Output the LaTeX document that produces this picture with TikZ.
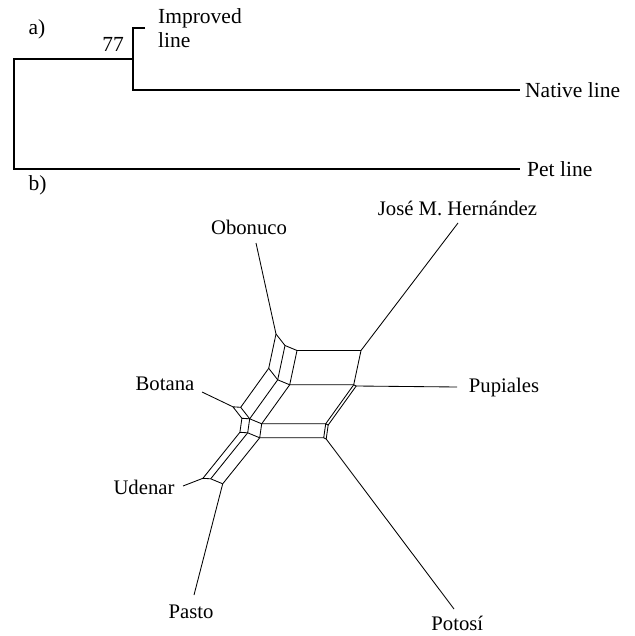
\documentclass[tikz,border=0pt]{standalone}
\usepackage{fontspec}
\setmainfont{Liberation Serif}
\begin{document}
\begin{tikzpicture}[x=1pt,y=-1pt,
  tree/.style={line width=2pt, line join=miter},
  net/.style={line width=0.85pt, line join=round},
  lbl/.style={font=\fontsize{20.7}{24}\selectfont, inner sep=0pt},
  lbla/.style={font=\fontsize{21.5}{24}\selectfont, inner sep=0pt}]
\useasboundingbox (0,0) rectangle (634,636);
% ---------- part a ----------
\coordinate (rt) at (14.3,59.3);
\coordinate (rb) at (14.3,169.3);
\coordinate (in) at (132.7,59.3);
\coordinate (it) at (132.7,28.3);
\coordinate (ib) at (132.7,90);
\coordinate (ie) at (145,28.3);
\coordinate (ne) at (520,90);
\coordinate (pe) at (520,169.3);
\draw[tree] (in) -- (rt) -- (rb) -- (pe);
\draw[tree] (ie) -- (it) -- (ib) -- (ne);
\node[lbla, anchor=base west] (la) at (28.3,35) {a)};
\node[lbla, anchor=base east] (l77) at (124,51.7) {77};
\node[lbla, anchor=base west] (imp1) at (158,24) {Improved};
\node[lbla, anchor=base west] (imp2) at (158,47.3) {line};
\node[lbla, anchor=base west] (nat) at (525,97.5) {Native line};
\node[lbla, anchor=base west] (pet) at (527,176.8) {Pet line};
\node[lbla, anchor=base west] (lb) at (28.3,190.5) {b)};
% ---------- part b: split network ----------
\coordinate (O0) at (276,334);
\coordinate (O1) at (285,345.5);
\coordinate (O2) at (297,350.5);
\coordinate (J0) at (361,350.5);
\coordinate (L0) at (268.7,368.3);
\coordinate (L1) at (277.7,379.8);
\coordinate (L2) at (289.7,384.8);
\coordinate (P0) at (353.7,384.8);
\coordinate (P1) at (356.2,386);
\coordinate (B1) at (240.7,407.3);
\coordinate (B0) at (232.9,406.8);
\coordinate (Y) at (249.7,418.8);
\coordinate (X) at (241.9,418.3);
\coordinate (T0) at (261.7,423.8);
\coordinate (T1) at (325.7,423.8);
\coordinate (T2) at (328.2,425);
\coordinate (XB) at (239.9,432.3);
\coordinate (YB) at (247.7,432.8);
\coordinate (TB0) at (259.7,437.8);
\coordinate (TB1) at (323.7,437.8);
\coordinate (TB2) at (326.2,439);
\coordinate (U) at (202.9,478.3);
\coordinate (YF) at (210.7,478.8);
\coordinate (Pa) at (222.7,483.8);
% leaf ends
\coordinate (eO) at (256,243);
\coordinate (eJ) at (458,223);
\coordinate (ePu) at (457,387);
\coordinate (ePo) at (454,609);
\coordinate (ePa) at (194,595);
\coordinate (eU) at (183,486);
\coordinate (eB) at (202,392);
\draw[net] (O0) -- (O1) -- (O2) -- (J0);
\draw[net] (O0) -- (L0); \draw[net] (O1) -- (L1); \draw[net] (O2) -- (L2); \draw[net] (J0) -- (P0);
\draw[net] (L0) -- (L1) -- (L2) -- (P0) -- (P1);
\draw[net] (L0) -- (B1); \draw[net] (L1) -- (Y); \draw[net] (L2) -- (T0);
\draw[net] (P0) -- (T1); \draw[net] (P1) -- (T2);
\draw[net] (B0) -- (B1) -- (Y) -- (X) -- (B0);
\draw[net] (Y) -- (T0) -- (T1) -- (T2);
\draw[net] (X) -- (XB); \draw[net] (Y) -- (YB); \draw[net] (T0) -- (TB0);
\draw[net] (T1) -- (TB1); \draw[net] (T2) -- (TB2);
\draw[net] (XB) -- (YB) -- (TB0) -- (TB1) -- (TB2);
\draw[net] (XB) -- (U); \draw[net] (YB) -- (YF); \draw[net] (TB0) -- (Pa);
\draw[net] (U) -- (YF) -- (Pa);
% leaf edges
\draw[net] (O0) -- (eO);
\draw[net] (J0) -- (eJ);
\draw[net] (P1) -- (ePu);
\draw[net] (TB2) -- (ePo);
\draw[net] (Pa) -- (ePa);
\draw[net] (U) -- (eU);
\draw[net] (B0) -- (eB);
% labels
\node[lbl, anchor=base] (tO) at (249,234) {Obonuco};
\node[lbl, anchor=base] (tJ) at (457.5,215) {José M. Hernández};
\node[lbl, anchor=base] (tPu) at (504,392.7) {Pupiales};
\node[lbl, anchor=base] (tB) at (165,390.7) {Botana};
\node[lbl, anchor=base] (tU) at (144,494) {Udenar};
\node[lbl, anchor=base] (tPa) at (191,618.3) {Pasto};
\node[lbl, anchor=base] (tPo) at (457.3,630.7) {Potosí};
\end{tikzpicture}
\end{document}
